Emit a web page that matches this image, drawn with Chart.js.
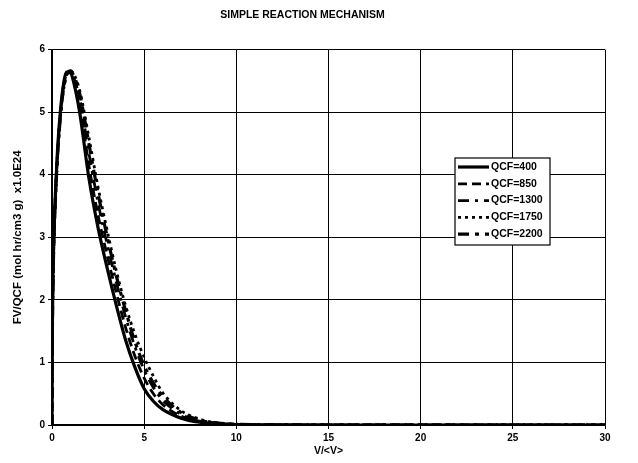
<!DOCTYPE html>
<html>
<head>
<meta charset="utf-8">
<script src="https://cdn.jsdelivr.net/npm/chart.js@4"></script>
<style>
  body { margin: 0; background: #fff; }
  #wrap { width: 638px; height: 463px; }
</style>
</head>
<body>
<div id="wrap"><canvas id="chart" width="638" height="463"></canvas></div>
<script>
// V/<V> sample positions shared by all curves
const vRatio = [0, 0.02, 0.05, 0.1, 0.2, 0.3, 0.45, 0.6, 0.8, 1.0, 1.2, 1.5, 2.0, 2.5, 3.0, 3.5, 4.0, 4.5, 5.0, 5.5, 6.0, 7, 8, 9, 10, 12, 15, 20, 25, 30];

const qcf400  = [0, 1.5, 2.3, 3.0, 3.8, 4.4, 5.0, 5.4, 5.64, 5.63, 5.45, 5.0, 3.95, 3.15, 2.5, 1.9, 1.35, 0.92, 0.58, 0.38, 0.25, 0.11, 0.045, 0.018, 0.007, 0.001, 0, 0, 0, 0];
const qcf850  = [0, 1.45, 2.25, 2.95, 3.75, 4.35, 4.95, 5.37, 5.63, 5.65, 5.5, 5.12, 4.15, 3.35, 2.7, 2.1, 1.55, 1.1, 0.75, 0.5, 0.33, 0.14, 0.06, 0.024, 0.009, 0.001, 0, 0, 0, 0];
const qcf1300 = [0, 1.45, 2.25, 2.95, 3.75, 4.35, 4.95, 5.35, 5.62, 5.65, 5.53, 5.22, 4.35, 3.55, 2.88, 2.27, 1.72, 1.25, 0.88, 0.6, 0.4, 0.17, 0.07, 0.028, 0.01, 0.002, 0, 0, 0, 0];
const qcf1750 = [0, 1.4, 2.2, 2.9, 3.7, 4.3, 4.9, 5.3, 5.6, 5.66, 5.6, 5.35, 4.6, 3.8, 3.1, 2.45, 1.9, 1.45, 1.08, 0.78, 0.52, 0.23, 0.095, 0.035, 0.012, 0.002, 0, 0, 0, 0];
const qcf2200 = [0, 1.4, 2.2, 2.9, 3.7, 4.3, 4.9, 5.32, 5.6, 5.66, 5.57, 5.3, 4.5, 3.7, 3.0, 2.37, 1.82, 1.33, 0.95, 0.67, 0.46, 0.2, 0.08, 0.03, 0.011, 0.002, 0, 0, 0, 0];

const seriesLabels = ['QCF=400', 'QCF=850', 'QCF=1300', 'QCF=1750', 'QCF=2200'];
const seriesValues = [qcf400, qcf850, qcf1300, qcf1750, qcf2200];
const dashes = [[], [9, 5], [11, 6, 3, 6], [3, 4], [11, 6, 4, 6]];
const widths = [3.2, 2.8, 2.8, 2.8, 3.2];

const xTicks = [0, 5, 10, 15, 20, 25, 30];
const yTicks = [0, 1, 2, 3, 4, 5, 6];

const fontFam = "'Liberation Sans', Arial, sans-serif";

const datasets = seriesLabels.map((label, i) => ({
    label: label,
    data: vRatio.map((v, j) => ({ x: v, y: seriesValues[i][j] })),
    borderColor: '#000',
    borderWidth: widths[i],
    borderDash: dashes[i],
    borderCapStyle: 'butt',
    showLine: true,
    pointRadius: 0,
    cubicInterpolationMode: 'monotone',
    fill: false
}));

// legend box drawn inside the plot, like the original
const boxLegend = {
    id: 'boxLegend',
    afterDraw(chart) {
        const ctx = chart.ctx;
        const x = 455, y = 158, w = 95, h = 87;
        ctx.save();
        ctx.fillStyle = '#fff';
        ctx.fillRect(x, y, w, h);
        ctx.strokeStyle = '#000';
        ctx.lineWidth = 1.2;
        ctx.strokeRect(x, y, w, h);
        ctx.font = 'bold 10.5px ' + fontFam;
        ctx.textBaseline = 'middle';
        ctx.fillStyle = '#000';
        chart.data.datasets.forEach((ds, i) => {
            const rowY = y + 9 + i * 16.8;
            ctx.beginPath();
            ctx.setLineDash(ds.borderDash);
            ctx.lineWidth = ds.borderWidth;
            ctx.lineCap = 'butt';
            ctx.moveTo(x + 3, rowY);
            ctx.lineTo(x + 34, rowY);
            ctx.stroke();
            ctx.setLineDash([]);
            ctx.fillText(ds.label, x + 36, rowY);
        });
        ctx.restore();
    }
};

new Chart(document.getElementById('chart'), {
    type: 'scatter',
    data: { datasets: datasets },
    plugins: [boxLegend],
    options: {
        responsive: false,
        animation: false,
        layout: { padding: { top: 0, right: 33, bottom: 0, left: 0 } },
        plugins: {
            legend: { display: false },
            tooltip: { enabled: false },
            title: {
                display: true,
                text: 'SIMPLE REACTION MECHANISM',
                color: '#000',
                font: { family: fontFam, size: 10.5, weight: 'bold' },
                padding: { top: 9, bottom: 28 }
            }
        },
        scales: {
            x: {
                type: 'linear',
                min: 0,
                max: 30,
                afterBuildTicks: (scale) => { scale.ticks = xTicks.map(v => ({ value: v })); },
                afterFit: (scale) => { scale.height = 38; },
                grid: { color: '#000', lineWidth: 1, tickLength: 4 },
                border: { color: '#000', width: 1.5 },
                ticks: {
                    color: '#000',
                    padding: 3,
                    maxRotation: 0,
                    font: { family: fontFam, size: 10, weight: 'bold' }
                },
                title: {
                    display: true,
                    text: 'V/<V>',
                    color: '#000',
                    font: { family: fontFam, size: 10.5, weight: 'bold' },
                    padding: { top: 0, bottom: 6 }
                }
            },
            y: {
                min: 0,
                max: 6,
                afterBuildTicks: (scale) => { scale.ticks = yTicks.map(v => ({ value: v })); },
                afterFit: (scale) => { scale.width = 52; },
                grid: { color: '#000', lineWidth: 1, tickLength: 4 },
                border: { color: '#000', width: 1.5 },
                ticks: {
                    color: '#000',
                    padding: 3,
                    font: { family: fontFam, size: 10, weight: 'bold' }
                },
                title: {
                    display: true,
                    text: 'FV/QCF (mol hr/cm3 g)  x1.0E24',
                    color: '#000',
                    font: { family: fontFam, size: 11.5, weight: 'bold' },
                    padding: { top: 11, bottom: 0 }
                }
            }
        }
    }
});
</script>
</body>
</html>
